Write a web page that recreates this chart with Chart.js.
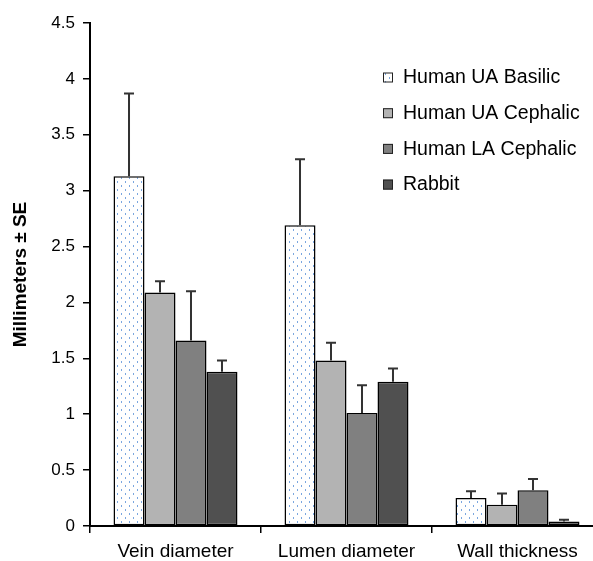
<!DOCTYPE html>
<html>
<head>
<meta charset="utf-8">
<script src="https://cdn.jsdelivr.net/npm/chart.js@4/dist/chart.umd.min.js"></script>
<style>
  html, body { margin: 0; padding: 0; background: #fff; overflow: hidden; }
  #wrap { width: 612px; height: 561px; }
</style>
</head>
<body>
<div id="wrap"><canvas id="c" width="612" height="561"></canvas></div>
<script>
const categories = ['Vein diameter', 'Lumen diameter', 'Wall thickness'];
const seriesLabels = ['Human UA Basilic', 'Human UA Cephalic', 'Human LA Cephalic', 'Rabbit'];
const uaBasilic   = [3.13, 2.69, 0.25];
const uaCephalic  = [2.09, 1.48, 0.19];
const laCephalic  = [1.66, 1.01, 0.32];
const rabbit      = [1.38, 1.29, 0.04];
const uaBasilicSE  = [0.74, 0.59, 0.06];
const uaCephalicSE = [0.10, 0.16, 0.10];
const laCephalicSE = [0.44, 0.25, 0.10];
const rabbitSE     = [0.10, 0.12, 0.015];
const yTicks = [0, 0.5, 1, 1.5, 2, 2.5, 3, 3.5, 4, 4.5];

function dotPattern() {
  const p = document.createElement('canvas');
  p.width = 8; p.height = 8;
  const g = p.getContext('2d');
  g.fillStyle = '#ffffff';
  g.fillRect(0, 0, 8, 8);
  g.fillStyle = '#7aa6df';
  g.fillRect(1, 1, 1, 2);
  g.fillRect(5, 5, 1, 2);
  return g.createPattern(p, 'repeat');
}
const pat = dotPattern();
const fills = [pat, '#b3b3b3', '#808080', '#505050'];
const values = [uaBasilic, uaCephalic, laCephalic, rabbit];
const errors = [uaBasilicSE, uaCephalicSE, laCephalicSE, rabbitSE];

const FONT = "'Liberation Sans', Arial, sans-serif";

const errorBars = {
  id: 'errorBars',
  afterDatasetsDraw(chart) {
    const ctx = chart.ctx;
    const ys = chart.scales.y;
    ctx.save();
    ctx.strokeStyle = '#333333';
    ctx.lineWidth = 2;
    chart.data.datasets.forEach((ds, di) => {
      const meta = chart.getDatasetMeta(di);
      meta.data.forEach((bar, i) => {
        const top = ys.getPixelForValue(ds.data[i] + ds.se[i]);
        const base = ys.getPixelForValue(ds.data[i]);
        ctx.beginPath();
        ctx.moveTo(bar.x, base);
        ctx.lineTo(bar.x, top);
        ctx.moveTo(bar.x - 5, top);
        ctx.lineTo(bar.x + 5, top);
        ctx.stroke();
      });
    });
    ctx.restore();
  }
};

const customLegend = {
  id: 'customLegend',
  afterDraw(chart) {
    const ctx = chart.ctx;
    ctx.save();
    ctx.font = '19.5px ' + FONT;
    ctx.textBaseline = 'middle';
    ctx.fillStyle = '#000';
    const x0 = 383, y0 = 77, dy = 35.7;
    chart.data.datasets.forEach((ds, i) => {
      const y = y0 + i * dy;
      ctx.fillStyle = ds.backgroundColor;
      ctx.fillRect(x0, y - 4.5, 10, 10);
      ctx.strokeStyle = '#222';
      ctx.lineWidth = 1;
      ctx.strokeRect(x0 + 0.5, y - 4, 9, 9);
      ctx.fillStyle = '#000';
      ctx.fillText(ds.label, 403, y + 1);
    });
    ctx.restore();
  }
};

new Chart(document.getElementById('c'), {
  type: 'bar',
  data: {
    labels: categories,
    datasets: seriesLabels.map((l, i) => ({
      label: l,
      data: values[i],
      se: errors[i],
      backgroundColor: fills[i],
      borderColor: '#000',
      borderWidth: 1.5,
      borderSkipped: false,
      barPercentage: 1,
      categoryPercentage: 0.725
    }))
  },
  options: {
    responsive: false,
    animation: false,
    devicePixelRatio: 1,
    layout: { padding: { top: 23, right: 9, left: 0, bottom: 0 } },
    plugins: { legend: { display: false }, tooltip: { enabled: false } },
    scales: {
      x: {
        grid: { offset: true, drawOnChartArea: false, drawTicks: true, tickLength: 7, color: '#000', lineWidth: 1.5 },
        border: { display: true, color: '#000', width: 2 },
        ticks: { color: '#000', font: { family: FONT, size: 19 }, padding: 7, maxRotation: 0 },
        afterFit(s) { s.height = 35; }
      },
      y: {
        min: 0, max: 4.5,
        afterBuildTicks(s) { s.ticks = yTicks.map(v => ({ value: v })); },
        grid: { drawOnChartArea: false, drawTicks: true, tickLength: 7, color: '#000', lineWidth: 1.5 },
        border: { display: true, color: '#000', width: 2 },
        ticks: { color: '#000', font: { family: FONT, size: 17 }, padding: 8, callback: v => String(v) },
        title: { display: true, text: 'Millimeters ± SE', color: '#000', font: { family: FONT, size: 19, weight: 'bold' }, padding: { top: 9, bottom: 0 } },
        afterFit(s) { s.width = 90; }
      }
    }
  },
  plugins: [errorBars, customLegend]
});
</script>
</body>
</html>
